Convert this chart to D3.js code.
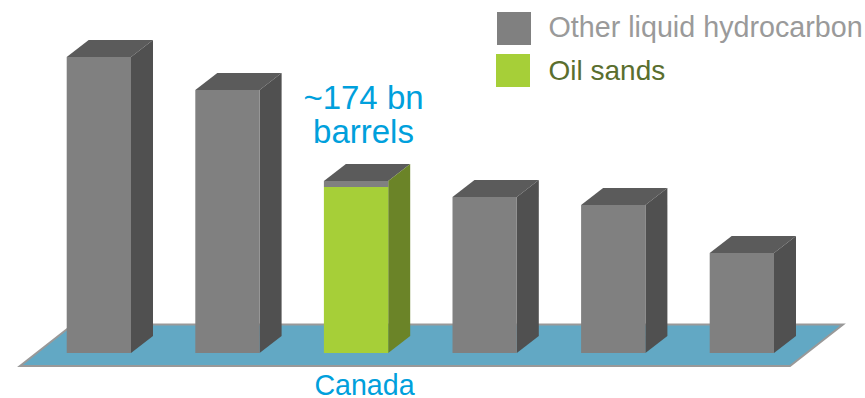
<!DOCTYPE html>
<html>
<head>
<meta charset="utf-8">
<script src="https://cdn.jsdelivr.net/npm/d3@7"></script>
<style>
    html, body { margin: 0; padding: 0; background: #fff; }
    svg { display: block; }
    text { font-family: "Liberation Sans", Arial, sans-serif; }
</style>
</head>
<body>
<div id="chart"></div>
<script>
// only Canada is named in the picture, the other columns have no label
var categories = ["c1", "c2", "Canada", "c4", "c5", "c6"];
var otherLiquid = [296, 263, 6, 156, 148, 100];
var oilSands = [0, 0, 166, 0, 0, 0];
var legendLabels = ["Other liquid hydrocarbon", "Oil sands"];
var calloutLines = ["~174 bn", "barrels"];

var width = 865, height = 398;
var baseline = 353;
var depthX = 22, depthY = -17;

var colors = {
    other: { front: "#808080", side: "#505050", top: "#5b5b5b" },
    sands: { front: "#a6cf38", side: "#6b8428", top: "#6b8428" }
};

var svg = d3.select("#chart").append("svg")
    .attr("width", width)
    .attr("height", height);

var xAxis = d3.scaleBand().domain(categories).range([66.7, 774]).paddingInner(0.5).paddingOuter(0);
var yAxis = d3.scaleLinear().domain([0, 296]).range([baseline, 57]);

// floor
svg.append("path")
    .attr("d", "M20,366 L790,366 L843,324.5 L73,324.5 Z")
    .attr("fill", "#62a8c4")
    .attr("stroke", "#999999")
    .attr("stroke-width", 2)
    .attr("stroke-linejoin", "miter");

function poly(points) {
    return "M" + points.map(function (p) { return p.join(","); }).join(" L") + " Z";
}

function drawBar(category, index) {
    var g = svg.append("g").attr("class", "bar");
    var x0 = xAxis(category);
    var x1 = x0 + xAxis.bandwidth();
    var sands = oilSands[index];
    var total = sands + otherLiquid[index];
    var yTop = yAxis(total);
    var ySplit = yAxis(sands);
    var sideColor = sands > 0 ? colors.sands.side : colors.other.side;

    // top face is grey on every column, the green stops under it
    g.append("path")
        .attr("d", poly([[x0, yTop], [x0 + depthX, yTop + depthY], [x1 + depthX, yTop + depthY], [x1, yTop]]))
        .attr("fill", colors.other.top);
    g.append("path")
        .attr("d", poly([[x1, yTop], [x1 + depthX, yTop + depthY], [x1 + depthX, baseline + depthY], [x1, baseline]]))
        .attr("fill", sideColor);
    g.append("rect")
        .attr("x", x0).attr("y", yTop)
        .attr("width", x1 - x0).attr("height", ySplit - yTop)
        .attr("fill", colors.other.front);
    if (sands > 0) {
        g.append("rect")
            .attr("x", x0).attr("y", ySplit)
            .attr("width", x1 - x0).attr("height", baseline - ySplit)
            .attr("fill", colors.sands.front);
    }
}

categories.forEach(drawBar);

// labels
svg.append("text")
    .attr("x", 364.5).attr("y", 395)
    .attr("text-anchor", "middle")
    .attr("font-size", 28.6)
    .attr("fill", "#00a0dc")
    .text("Canada");

svg.selectAll("text.callout").data(calloutLines).enter().append("text")
    .attr("class", "callout")
    .attr("x", 363.5)
    .attr("y", function (d, i) { return 109 + i * 34; })
    .attr("text-anchor", "middle")
    .attr("font-size", 33)
    .attr("fill", "#00a0dc")
    .text(function (d) { return d; });

// legend
var legendColors = [colors.other.front, colors.sands.front];
var legendText = ["#9a9a9a", "#5a6e2e"];
var legendBoxX = [497, 496], legendBoxY = [12, 54];
var legendTextY = [37, 80];
var legendSize = [28.7, 28];

legendLabels.forEach(function (label, i) {
    svg.append("rect")
        .attr("x", legendBoxX[i]).attr("y", legendBoxY[i])
        .attr("width", 34).attr("height", 33)
        .attr("fill", legendColors[i]);
    svg.append("text")
        .attr("x", 548.5).attr("y", legendTextY[i])
        .attr("font-size", legendSize[i])
        .attr("fill", legendText[i])
        .text(label);
});
</script>
</body>
</html>
